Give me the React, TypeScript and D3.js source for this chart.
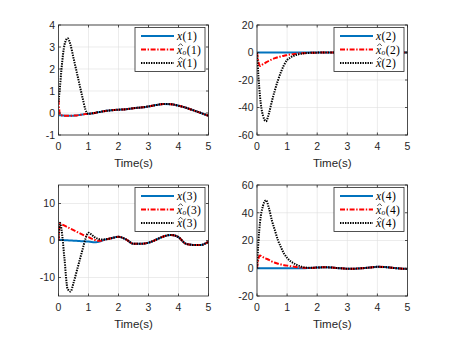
import * as d3 from "d3";

const time = [0, 0.05, 0.1, 0.2, 0.3, 0.4, 0.5, 0.6, 0.7, 0.8, 0.9, 1.0, 1.1, 1.2, 1.3, 1.4, 1.5, 1.75, 2.0, 2.25, 2.5, 2.75, 3.0, 3.25, 3.5, 3.75, 4.0, 4.25, 4.5, 4.75, 5.0];

// state 1
const x1 = [-0.1, -0.1, -0.11, -0.12, -0.13, -0.13, -0.12, -0.11, -0.09, -0.07, -0.05, -0.04, -0.02, 0.0, 0.03, 0.05, 0.08, 0.12, 0.15, 0.17, 0.22, 0.25, 0.3, 0.36, 0.41, 0.4, 0.33, 0.24, 0.12, 0.0, -0.13];
const xo1 = [0.6, -0.08, -0.1, -0.12, -0.13, -0.13, -0.12, -0.11, -0.09, -0.07, -0.05, -0.04, -0.02, 0.0, 0.03, 0.05, 0.08, 0.12, 0.15, 0.17, 0.22, 0.25, 0.3, 0.36, 0.41, 0.4, 0.33, 0.24, 0.12, 0.0, -0.13];
const xh1 = [0.5, 1.2, 2.0, 3.1, 3.4, 3.1, 2.5, 1.9, 1.3, 0.7, 0.15, -0.04, -0.02, 0.0, 0.03, 0.05, 0.08, 0.12, 0.15, 0.17, 0.22, 0.25, 0.3, 0.36, 0.41, 0.4, 0.33, 0.24, 0.12, 0.0, -0.13];

// state 2
const x2 = [0, 0, 0, 0, 0, 0, 0, 0, 0, 0, 0, 0, 0, 0, 0, 0, 0, 0, 0, 0, 0, 0, 0, 0, 0, 0, 0, 0, 0, 0, 0];
const xo2 = [0, -7, -9.8, -8.5, -7.2, -6, -5, -4.1, -3.4, -2.8, -2.3, -1.9, -1.5, -1.2, -0.9, -0.7, -0.5, -0.25, -0.1, 0, 0, 0, 0, 0, 0, 0, 0, 0, 0, 0, 0];
const xh2 = [0, -18, -32, -46, -50, -44, -35, -27, -20, -14, -9, -5.5, -3.8, -2.6, -1.8, -1.2, -0.8, -0.3, -0.1, 0, 0, 0, 0, 0, 0, 0, 0, 0, 0, 0, 0];

// state 3
const x3 = [0.2, 0.2, 0.15, 0.1, 0.05, 0, -0.05, -0.1, -0.15, -0.2, -0.25, -0.3, -0.4, -0.45, -0.4, -0.2, 0.1, 0.6, 1.0, 0.3, -0.9, -0.9, -0.6, 0.2, 1.1, 1.5, 0.9, -0.9, -1.2, -1.2, -0.3];
const xo3 = [0, 4.5, 4.4, 4.0, 3.6, 3.2, 2.8, 2.4, 2.0, 1.6, 1.2, 0.9, 0.5, 0.2, -0.1, -0.1, 0.1, 0.6, 1.0, 0.3, -0.9, -0.9, -0.6, 0.2, 1.1, 1.5, 0.9, -0.9, -1.2, -1.2, -0.3];
const xh3 = [0, 4.8, 3, -5, -13, -13.8, -11.5, -8.5, -5.5, -2.5, 0.5, 2.1, 1.6, 0.9, 0.5, 0.3, 0.3, 0.6, 1.0, 0.3, -0.9, -0.9, -0.6, 0.2, 1.1, 1.5, 0.9, -0.9, -1.2, -1.2, -0.3];

// state 4
const x4 = [0, 0, 0, 0, 0, 0, 0, 0, 0, 0, 0, 0, 0, 0, 0, 0, 0, 0.2, 0.5, 0.7, 0.5, 0, -0.3, -0.3, 0, 0.5, 1.0, 0.9, 0.3, -0.2, -0.5];
const xo4 = [0, 7, 9.1, 8.0, 7.0, 6.0, 4.8, 4.0, 3.3, 2.7, 2.2, 1.9, 1.5, 1.2, 0.9, 0.6, 0.3, 0.2, 0.5, 0.7, 0.5, 0, -0.3, -0.3, 0, 0.5, 1.0, 0.9, 0.3, -0.2, -0.5];
const xh4 = [0, 20, 33, 45, 49, 43, 34, 27, 20, 15, 10.5, 7.5, 5.3, 3.8, 2.6, 1.7, 1.0, 0.3, 0.5, 0.7, 0.5, 0, -0.3, -0.3, 0, 0.5, 1.0, 0.9, 0.3, -0.2, -0.5];

const xTicks = [0, 1, 2, 3, 4, 5];
const yTicks1 = [-1, 0, 1, 2, 3, 4];
const yTicks2 = [-60, -40, -20, 0, 20];
const yTicks3 = [-10, 0, 10];
const yTicks4 = [-20, 0, 20, 40, 60];

const panels = [
  { id: 1, x: 58.5, y: 25, w: 150, h: 110, yDomain: [-1, 4], yTicks: yTicks1, series: [x1, xo1, xh1] },
  { id: 2, x: 257, y: 25, w: 150.5, h: 110, yDomain: [-60, 20], yTicks: yTicks2, series: [x2, xo2, xh2] },
  { id: 3, x: 58.5, y: 185, w: 150, h: 111, yDomain: [-15, 15], yTicks: yTicks3, series: [x3, xo3, xh3] },
  { id: 4, x: 257, y: 185, w: 150.5, h: 111, yDomain: [-20, 60], yTicks: yTicks4, series: [x4, xo4, xh4] },
];

const styles = [
  { color: "#0072BD", width: 2, dash: "none" },
  { color: "#FF0000", width: 2, dash: "5 1.6 1.4 1.6" },
  { color: "#000000", width: 2, dash: "1.4 1.1" },
];

const axisColor = "#262626";
const sans = "'Liberation Sans', Arial, sans-serif";
const serif = "'Liberation Serif', 'DejaVu Serif', serif";

function Label({ kind, n }: { kind: number; n: number }) {
  const hat = kind > 0;
  return (
    <>
      {hat && <path d="M43.4,-3.6 L45.6,-5.8 L47.8,-3.6" fill="none" stroke="#000" strokeWidth={0.7} />}
      <text x={42} y={4} fontFamily={serif} fontSize={11.5} letterSpacing={0.4} fill="#000">
        <tspan fontStyle="italic">x</tspan>
        {kind === 1 && (
          <tspan fontStyle="italic" fontSize="7.5" dy="1.6">o</tspan>
        )}
        <tspan dy={kind === 1 ? "-1.6" : "0"}>({n})</tspan>
      </text>
    </>
  );
}

function Panel({ p }: { p: (typeof panels)[number] }) {
  const xs = d3.scaleLinear().domain([0, 5]).range([0, p.w]);
  const ys = d3.scaleLinear().domain(p.yDomain).range([p.h, 0]);
  const line = d3
    .line<number>()
    .x((_, i) => xs(time[i]))
    .y((d) => ys(d))
    .curve(d3.curveMonotoneX);
  const clipId = `clip${p.id}`;
  const lw = 70;
  const lh = 44;
  const lx = p.w - 3.5 - lw;
  const ly = 2.5;
  return (
    <g transform={`translate(${p.x},${p.y})`}>
      <defs>
        <clipPath id={clipId}>
          <rect x={0} y={0} width={p.w} height={p.h} />
        </clipPath>
      </defs>
      <rect x={0} y={0} width={p.w} height={p.h} fill="#fff" />
      {xTicks.map((t) => (
        <line key={`gx${t}`} x1={xs(t)} x2={xs(t)} y1={0} y2={p.h} stroke="#dfdfdf" strokeWidth={0.6} />
      ))}
      {p.yTicks.map((t) => (
        <line key={`gy${t}`} x1={0} x2={p.w} y1={ys(t)} y2={ys(t)} stroke="#dfdfdf" strokeWidth={0.6} />
      ))}
      <g clipPath={`url(#${clipId})`}>
        {p.series.map((s, i) => (
          <path
            key={i}
            d={line(s) ?? ""}
            fill="none"
            stroke={styles[i].color}
            strokeWidth={styles[i].width}
            strokeDasharray={styles[i].dash}
          />
        ))}
      </g>
      <rect x={0} y={0} width={p.w} height={p.h} fill="none" stroke={axisColor} strokeWidth={0.8} />
      {xTicks.map((t) => (
        <g key={`tx${t}`}>
          <line x1={xs(t)} x2={xs(t)} y1={p.h} y2={p.h - 2.5} stroke={axisColor} strokeWidth={0.8} />
          <line x1={xs(t)} x2={xs(t)} y1={0} y2={2.5} stroke={axisColor} strokeWidth={0.8} />
          <text x={xs(t)} y={p.h + 14.5} textAnchor="middle" fontFamily={sans} fontSize={10.5} fill={axisColor}>
            {t}
          </text>
        </g>
      ))}
      {p.yTicks.map((t) => (
        <g key={`ty${t}`}>
          <line x1={0} x2={2.5} y1={ys(t)} y2={ys(t)} stroke={axisColor} strokeWidth={0.8} />
          <line x1={p.w} x2={p.w - 2.5} y1={ys(t)} y2={ys(t)} stroke={axisColor} strokeWidth={0.8} />
          <text x={-3.5} y={ys(t) + 3.8} textAnchor="end" fontFamily={sans} fontSize={10.5} fill={axisColor}>
            {t}
          </text>
        </g>
      ))}
      <text x={p.w / 2} y={p.h + 32} textAnchor="middle" fontFamily={sans} fontSize={11.5} fill={axisColor}>
        Time(s)
      </text>
      <g transform={`translate(${lx},${ly})`}>
        <rect x={0} y={0} width={lw} height={lh} fill="#fff" stroke={axisColor} strokeWidth={0.8} />
        {styles.map((s, i) => (
          <g key={i} transform={`translate(0,${8.4 + i * 13.6})`}>
            <line x1={6} x2={39} y1={0} y2={0} stroke={s.color} strokeWidth={s.width} strokeDasharray={s.dash} />
            <Label kind={i} n={p.id} />
          </g>
        ))}
      </g>
    </g>
  );
}

export default function App() {
  return (
    <svg
      width={450}
      height={338}
      style={{ position: "fixed", left: 0, top: 0, background: "#fff" }}
    >
      <rect width={450} height={338} fill="#fff" />
      {panels.map((p) => (
        <Panel key={p.id} p={p} />
      ))}
    </svg>
  );
}
